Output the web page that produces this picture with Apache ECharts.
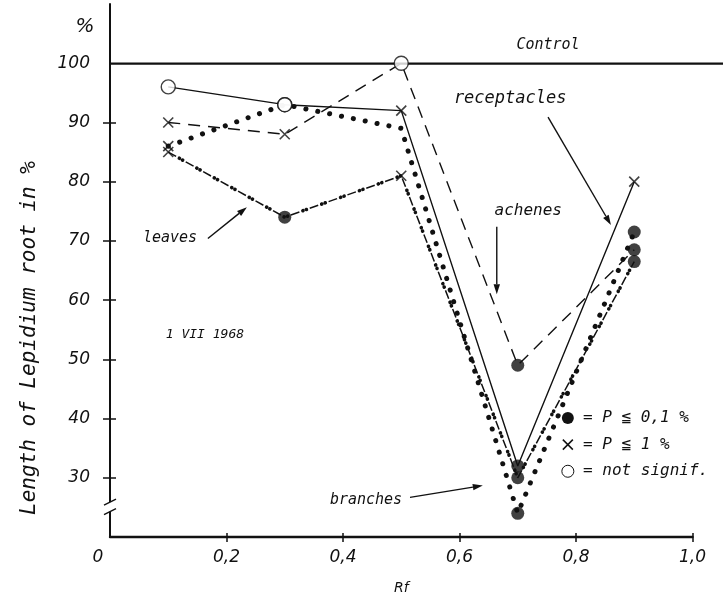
<!DOCTYPE html>
<html>
<head>
<meta charset="utf-8">
<script src="https://cdn.jsdelivr.net/npm/echarts@6/dist/echarts.min.js"></script>
<style>
  html, body { margin: 0; padding: 0; background: #fff; }
  #chart { width: 723px; height: 600px; }
</style>
</head>
<body>
<div id="chart"></div>
<script>
// Rf fractions of the extract and relative root length (% of control)
const rf = [0.1, 0.3, 0.5, 0.7, 0.9];

const receptacles = [96, 93, 92, 32, 80];
const receptaclesSig = ['ns', 'ns', 'p1', 'p01', 'p1'];

const achenes = [90, 88, 100, 49, 68.5];
const achenesSig = ['p1', 'p1', 'ns', 'p01', 'p01'];

const leaves = [85, 74, 81, 30, 66.5];
const leavesSig = ['p1', 'p01', 'p1', 'p01', 'p01'];

const branches = [86, 93, 89, 24, 71.5];
const branchesSig = ['p1', 'ns', 'none', 'p01', 'p01'];

const controlLevel = 100;

const yTickValues = [30, 40, 50, 60, 70, 80, 90];
const yLabelValues = [30, 40, 50, 60, 70, 80, 90, 100];
const xTickValues = [0.2, 0.4, 0.6, 0.8, 1.0];
const xLabelValues = [0, 0.2, 0.4, 0.6, 0.8, 1.0];

const INK = '#111';
const FONT = '"DejaVu Sans", sans-serif';
const MONO = '"DejaVu Sans Mono", monospace';

const markerStyles = {
  p01: { symbol: 'circle', symbolSize: 13, itemStyle: { color: INK, borderWidth: 0 } },
  p1: { symbol: 'path://M0,0L10,10M10,0L0,10', symbolSize: 10,
        itemStyle: { color: 'rgba(0,0,0,0)', borderColor: INK, borderWidth: 1.6 } },
  ns: { symbol: 'circle', symbolSize: 14, itemStyle: { color: '#fff', borderColor: INK, borderWidth: 1.4 } },
  none: { symbol: 'none', symbolSize: 0 }
};

function linePoints(values) {
  return rf.map((x, i) => [x, values[i]]);
}
function markerPoints(values, sig) {
  return rf.map((x, i) => Object.assign({ value: [x, values[i]] }, markerStyles[sig[i]]));
}

function lineSeries(name, values, lineStyle) {
  return {
    name, type: 'line', data: linePoints(values),
    xAxisIndex: 0, yAxisIndex: 0,
    symbol: 'none', z: 2, silent: true,
    lineStyle: Object.assign({ color: INK }, lineStyle)
  };
}
function markerSeries(name, values, sig) {
  return {
    name, type: 'scatter', data: markerPoints(values, sig),
    xAxisIndex: 0, yAxisIndex: 0, z: 5, silent: true
  };
}

const labelFont = { color: INK, fontFamily: FONT, fontStyle: 'italic', fontSize: 17 };

const chart = echarts.init(document.getElementById('chart'), null, { renderer: 'canvas' });

chart.setOption({
  animation: false,
  backgroundColor: '#fff',
  grid: [
    { left: 110, right: 30.5, top: 4, bottom: 60 },
    { left: 110, right: 0, top: 4, bottom: 60 }
  ],
  xAxis: [
    {
      type: 'value', gridIndex: 0, position: 'bottom', min: 0, max: 1, interval: 0.2,
      axisLine: { lineStyle: { color: INK, width: 2.4 } },
      axisTick: { show: true, length: 5, customValues: xTickValues, lineStyle: { color: INK, width: 1.5 } },
      splitLine: { show: false },
      axisLabel: Object.assign({
        margin: 12, customValues: xLabelValues,
        formatter: v => v === 0 ? '{z|0}' : v.toFixed(1).replace('.', ','),
        rich: { z: Object.assign({ padding: [0, 24, 0, 0] }, labelFont) }
      }, labelFont),
      name: 'Rf', nameLocation: 'middle', nameGap: 44,
      nameTextStyle: { color: INK, fontFamily: FONT, fontStyle: 'italic', fontSize: 14 }
    },
    {
      type: 'value', gridIndex: 0, position: 'bottom', min: 0, max: 1, interval: 0.2,
      axisLine: { show: false }, axisLabel: { show: false }, splitLine: { show: false },
      axisTick: { show: true, inside: true, length: 4, customValues: xTickValues, lineStyle: { color: INK, width: 1.5 } }
    },
    { type: 'value', gridIndex: 1, min: 0, max: 1, show: false }
  ],
  yAxis: [
    {
      type: 'value', gridIndex: 0, position: 'left', min: 20, max: 110, interval: 10,
      axisLine: { lineStyle: { color: INK, width: 2 } },
      axisTick: { show: true, length: 7, customValues: yTickValues, lineStyle: { color: INK, width: 1.5 } },
      splitLine: { show: false },
      axisLabel: Object.assign({ margin: 20, customValues: yLabelValues }, labelFont)
    },
    {
      type: 'value', gridIndex: 0, position: 'left', min: 20, max: 110, interval: 10,
      axisLine: { show: false }, axisLabel: { show: false }, splitLine: { show: false },
      axisTick: { show: true, inside: true, length: 6, customValues: yTickValues, lineStyle: { color: INK, width: 1.5 } }
    },
    { type: 'value', gridIndex: 1, min: 20, max: 110, show: false }
  ],
  series: [
    {
      name: 'Control', type: 'line', xAxisIndex: 2, yAxisIndex: 2,
      data: [[0, controlLevel], [1, controlLevel]], symbol: 'none', z: 1, silent: true,
      lineStyle: { color: INK, width: 2.2 }
    },
    lineSeries('receptacles', receptacles, { width: 1.4, type: 'solid' }),
    lineSeries('achenes', achenes, { width: 1.4, type: [12, 8] }),
    lineSeries('leaves', leaves, { width: 1.5, type: [9, 11] }),
    lineSeries('leaves', leaves, { width: 3.6, type: [0.1, 3.6, 0.1, 16.2], dashOffset: 7.3, cap: 'round' }),
    lineSeries('branches', branches, { width: 5, type: [0.1, 12], cap: 'round' }),
    markerSeries('receptacles', receptacles, receptaclesSig),
    markerSeries('achenes', achenes, achenesSig),
    markerSeries('leaves', leaves, leavesSig),
    markerSeries('branches', branches, branchesSig)
  ]
});

// Annotations placed in data coordinates (Rf, %)
function px(p) { return chart.convertToPixel({ gridIndex: 0 }, p); }

function text(p, str, size, extra) {
  const q = px(p);
  return {
    type: 'text', x: q[0], y: q[1], silent: true, z: 10,
    style: Object.assign({
      text: str, fill: INK, font: 'italic ' + size + 'px ' + MONO,
      align: 'center', verticalAlign: 'middle'
    }, extra || {})
  };
}

function arrow(from, to) {
  const a = px(from), b = px(to);
  const ang = Math.atan2(b[1] - a[1], b[0] - a[0]);
  const L = 10, W = 3.2;
  const bx = b[0] - L * Math.cos(ang), by = b[1] - L * Math.sin(ang);
  const nx = -Math.sin(ang) * W, ny = Math.cos(ang) * W;
  return [
    { type: 'line', silent: true, z: 10, shape: { x1: a[0], y1: a[1], x2: bx, y2: by },
      style: { stroke: INK, lineWidth: 1.4 } },
    { type: 'polygon', silent: true, z: 10,
      shape: { points: [[b[0], b[1]], [bx + nx, by + ny], [bx - nx, by - ny]] },
      style: { fill: INK } }
  ];
}

// Break marks on the value axis between 20 and 30
function axisBreak(level) {
  const top = px([0, level + 0.9]), bot = px([0, level - 0.7]);
  const x = top[0];
  return [
    { type: 'rect', silent: true, z: 9, shape: { x: x - 4, y: top[1], width: 8, height: bot[1] - top[1] },
      style: { fill: '#fff' } },
    { type: 'line', silent: true, z: 10, shape: { x1: x - 6, y1: top[1] + 3, x2: x + 6, y2: top[1] - 3 },
      style: { stroke: INK, lineWidth: 1.4 } },
    { type: 'line', silent: true, z: 10, shape: { x1: x - 6, y1: bot[1] + 3, x2: x + 6, y2: bot[1] - 3 },
      style: { stroke: INK, lineWidth: 1.4 } }
  ];
}

function legendRow(y, kind, label) {
  const s = px([0.786, y]);
  const items = [];
  if (kind === 'p01') {
    items.push({ type: 'circle', silent: true, z: 10, shape: { cx: s[0], cy: s[1], r: 6 }, style: { fill: INK } });
  } else if (kind === 'p1') {
    items.push({ type: 'line', silent: true, z: 10, shape: { x1: s[0] - 5, y1: s[1] - 5, x2: s[0] + 5, y2: s[1] + 5 },
      style: { stroke: INK, lineWidth: 1.5 } });
    items.push({ type: 'line', silent: true, z: 10, shape: { x1: s[0] + 5, y1: s[1] - 5, x2: s[0] - 5, y2: s[1] + 5 },
      style: { stroke: INK, lineWidth: 1.5 } });
  } else {
    items.push({ type: 'circle', silent: true, z: 10, shape: { cx: s[0], cy: s[1], r: 6 },
      style: { fill: '#fff', stroke: INK, lineWidth: 1 } });
  }
  items.push(text([0.812, y], label, 16, { align: 'left' }));
  return items;
}

const graphics = [].concat(
  text([0.752, 103.1], 'Control', 15),
  text([0.687, 94.0], 'receptacles', 17),
  arrow([0.752, 90.9], [0.860, 72.7]),
  text([0.718, 75.1], 'achenes', 16),
  arrow([0.664, 72.4], [0.664, 61.0]),
  text([0.103, 70.4], 'leaves', 15),
  arrow([0.168, 70.4], [0.235, 75.7]),
  text([0.163, 54.1], '1 VII 1968', 13),
  text([0.4395, 26.2], 'branches', 15),
  arrow([0.515, 26.7], [0.640, 28.7]),
  legendRow(40.1, 'p01', '= P ≦ 0,1 %'),
  legendRow(35.6, 'p1', '= P ≦ 1 %'),
  legendRow(31.1, 'ns', '= not signif.'),
  axisBreak(25),
  [
    { type: 'text', x: 85, y: 27, silent: true, z: 10,
      style: { text: '%', fill: INK, font: 'italic 20px ' + FONT, align: 'center', verticalAlign: 'middle' } },
    { type: 'text', x: 30, y: 338, rotation: Math.PI / 2, silent: true, z: 10,
      style: { text: 'Length of Lepidium root in %', fill: INK, font: 'italic 21px ' + MONO,
               align: 'center', verticalAlign: 'middle' } }
  ]
);

chart.setOption({ graphic: graphics });
</script>
</body>
</html>
